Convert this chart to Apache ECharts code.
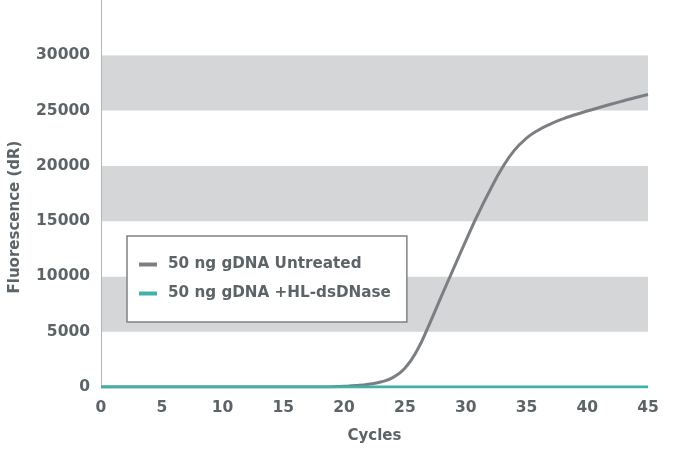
<!DOCTYPE html>
<html>
<head>
<meta charset="utf-8">
<script src="https://cdn.jsdelivr.net/npm/echarts@6/dist/echarts.min.js"></script>
<style>html,body{margin:0;padding:0;background:#fff;}#c{width:674px;height:450px;}</style>
</head>
<body>
<div id="c"></div>
<script>
var cycles = [];
for (var i = 0; i <= 45; i++) cycles.push(i);
var untreated = [0,0,0,0,0,0,0,0,0,0,0,0,0,0,0,0,0,0,0,20,60,130,250,450,850,1700,3300,5650,8200,10700,13200,15600,17800,19800,21400,22500,23250,23800,24250,24620,24960,25280,25590,25890,26180,26450];
var treated = [0,0,0,0,0,0,0,0,0,0,0,0,0,0,0,0,0,0,0,0,0,0,0,0,0,0,0,0,0,0,0,0,0,0,0,0,0,0,0,0,0,0,0,0,0,0];
var seriesNames = ['50 ng gDNA Untreated', '50 ng gDNA +HL-dsDNase'];
var xTicks = [0,5,10,15,20,25,30,35,40,45];
var yTicks = [0,5000,10000,15000,20000,25000,30000];

var font = 'DejaVu Sans';
var txt = '#5d6467';
function pairs(arr){ return cycles.map(function(c,i){ return [c, arr[i]]; }); }

var chart = echarts.init(document.getElementById('c'), null, {renderer:'canvas'});
chart.setOption({
  animation: false,
  backgroundColor: '#ffffff',
  textStyle: {fontFamily: font},
  grid: {left: 101, right: 26, top: 0, bottom: 63, containLabel: false},
  xAxis: {
    type: 'value', min: 0, max: 45, interval: 5,
    name: 'Cycles', nameLocation: 'middle', nameGap: 42,
    nameTextStyle: {fontFamily: font, fontWeight: 'bold', fontSize: 15, color: txt},
    axisLine: {show: false}, axisTick: {show: false}, splitLine: {show: false},
    axisLabel: {margin: 13, fontFamily: font, fontWeight: 'bold', fontSize: 15.5, color: txt,
      formatter: function(v){ return xTicks.indexOf(v) >= 0 ? String(v) : ''; }}
  },
  yAxis: {
    type: 'value', min: 0, max: 35000, interval: 5000,
    axisLine: {show: true, lineStyle: {color: '#b3b5b7', width: 1}},
    axisTick: {show: false},
    splitLine: {show: false},
    splitArea: {show: true, areaStyle: {color: ['#ffffff', '#d4d6d7']}},
    axisLabel: {margin: 11, fontFamily: font, fontWeight: 'bold', fontSize: 15.5, color: txt,
      formatter: function(v){ return yTicks.indexOf(v) >= 0 ? String(v) : ''; }}
  },
  graphic: [{
    type: 'text',
    rotation: Math.PI / 2,
    x: 15, y: 217,
    style: {text: 'Fluorescence (dR)', fontFamily: font, fontWeight: 'bold', fontSize: 15, fill: txt,
      align: 'center', verticalAlign: 'middle'}
  }],
  legend: {
    orient: 'vertical', left: 127, top: 236,
    padding: [21, 16, 21, 12], itemGap: 14,
    itemWidth: 18, itemHeight: 4, icon: 'rect',
    backgroundColor: '#ffffff', borderColor: '#7f8285', borderWidth: 1.5,
    textStyle: {fontFamily: font, fontWeight: 'bold', fontSize: 15.2, color: txt, padding: [0,0,0,6]},
    data: seriesNames
  },
  series: [
    {name: seriesNames[0], type: 'line', data: pairs(untreated), smooth: 0.5, showSymbol: false,
      lineStyle: {color: '#7b7f83', width: 3}, itemStyle: {color: '#7b7f83'}, z: 2},
    {name: seriesNames[1], type: 'line', data: pairs(treated), showSymbol: false,
      lineStyle: {color: '#3fb0aa', width: 3}, itemStyle: {color: '#3fb0aa'}, z: 3}
  ]
});
</script>
</body>
</html>
